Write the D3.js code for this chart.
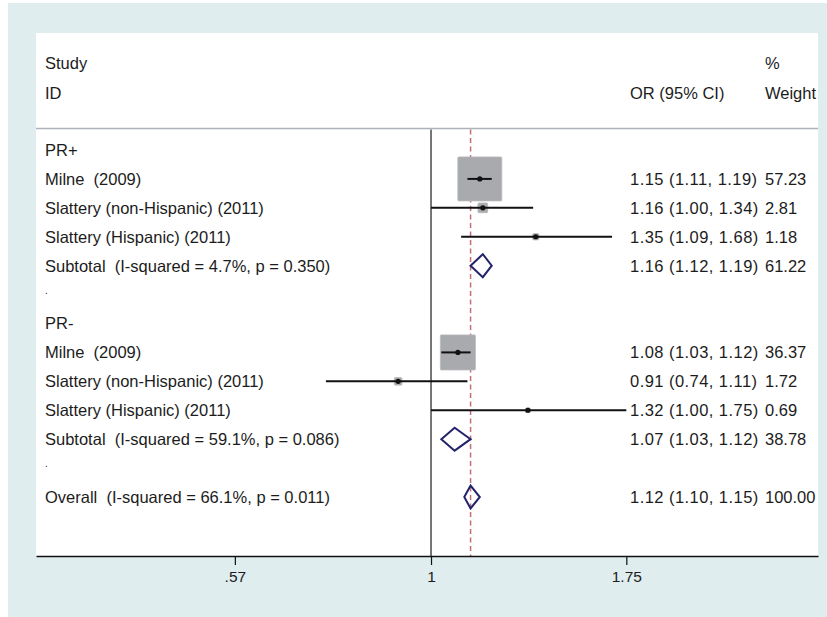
<!DOCTYPE html>
<html>
<head>
<meta charset="utf-8">
<script src="https://cdn.jsdelivr.net/npm/d3@7/dist/d3.min.js"></script>
<style>
  html, body { margin: 0; padding: 0; background: #ffffff; }
  svg { display: block; font-family: "Liberation Sans", Arial, sans-serif; }
  text { white-space: pre; }
</style>
</head>
<body>
<svg id="chart" width="827" height="617"></svg>
<script>
// Forest plot rows, top to bottom
const rowLabels = [
  "PR+",
  "Milne  (2009)",
  "Slattery (non-Hispanic) (2011)",
  "Slattery (Hispanic) (2011)",
  "Subtotal  (I-squared = 4.7%, p = 0.350)",
  ".",
  "PR-",
  "Milne  (2009)",
  "Slattery (non-Hispanic) (2011)",
  "Slattery (Hispanic) (2011)",
  "Subtotal  (I-squared = 59.1%, p = 0.086)",
  ".",
  "Overall  (I-squared = 66.1%, p = 0.011)"
];
const rowKinds = ["group", "study", "study", "study", "subtotal", "blank",
                  "group", "study", "study", "study", "subtotal", "blank", "overall"];
const orValues = [null, 1.15, 1.16, 1.35, 1.16, null, null, 1.08, 0.91, 1.32, 1.07, null, 1.12];
const ciLower  = [null, 1.11, 1.00, 1.09, 1.12, null, null, 1.03, 0.74, 1.00, 1.03, null, 1.10];
const ciUpper  = [null, 1.19, 1.34, 1.68, 1.19, null, null, 1.12, 1.11, 1.75, 1.12, null, 1.15];
const weights  = [null, 57.23, 2.81, 1.18, 61.22, null, null, 36.37, 1.72, 0.69, 38.78, null, 100.00];

const tickValues = [0.57, 1, 1.75];
const tickLabels = [".57", "1", "1.75"];

const svg = d3.select("#chart");
const W = 827, H = 617;

// frame
svg.append("rect").attr("x", 8).attr("y", 3).attr("width", W - 8).attr("height", H - 3)
  .attr("fill", "#dfedef");
const panel = { left: 36, right: 818, top: 33, bottom: 556 };
svg.append("rect").attr("x", panel.left).attr("y", panel.top)
  .attr("width", panel.right - panel.left).attr("height", panel.bottom - panel.top)
  .attr("fill", "#ffffff");

const x = d3.scaleLog().domain([0.3224, 3.031]).range([panel.left, panel.right]);
const y = d3.scaleLinear().domain([0, rowLabels.length - 1]).range([150, 497]);

const fontSize = 16.5;
const textColor = "#1c1c1c";
const colOR = 630, colW = 765, colLabel = 45;
const sepY = 128.5;

// column headers
const hdr = svg.append("g").attr("fill", textColor).attr("font-size", fontSize);
hdr.append("text").attr("x", colLabel).attr("y", 63).attr("dy", "0.36em").text("Study");
hdr.append("text").attr("x", colLabel).attr("y", 93).attr("dy", "0.36em").text("ID");
hdr.append("text").attr("x", colOR).attr("y", 93).attr("dy", "0.36em").text("OR (95% CI)");
hdr.append("text").attr("x", colW).attr("y", 63).attr("dy", "0.36em").text("%");
hdr.append("text").attr("x", colW).attr("y", 93).attr("dy", "0.36em").text("Weight");

svg.append("line").attr("x1", panel.left).attr("x2", panel.right)
  .attr("y1", sepY).attr("y2", sepY)
  .attr("stroke", "#adb2ba").attr("stroke-width", 1.5);

// reference lines: null effect and overall estimate
const overallIdx = rowKinds.indexOf("overall");
svg.append("line").attr("x1", x(1)).attr("x2", x(1))
  .attr("y1", sepY + 1).attr("y2", panel.bottom)
  .attr("stroke", "#555555").attr("stroke-width", 1.6);
svg.append("line").attr("x1", x(orValues[overallIdx])).attr("x2", x(orValues[overallIdx]))
  .attr("y1", sepY + 1).attr("y2", panel.bottom)
  .attr("stroke", "#c46d78").attr("stroke-width", 1.5).attr("stroke-dasharray", "5,3.5");

// axis
const axis = d3.axisBottom(x)
  .tickValues(tickValues)
  .tickFormat((d, i) => tickLabels[i])
  .tickSize(9).tickSizeOuter(0);
const ax = svg.append("g").attr("transform", `translate(0,${panel.bottom})`).call(axis);
ax.select(".domain").attr("stroke", "#111").attr("stroke-width", 1.6);
ax.selectAll(".tick line").attr("stroke", "#111").attr("stroke-width", 1.2);
ax.selectAll(".tick text").attr("fill", textColor).attr("font-size", 15.5)
  .attr("font-family", "'Liberation Sans', Arial, sans-serif").attr("y", 15);

// row labels and estimate columns
const rows = rowLabels.map((label, i) => ({
  label, kind: rowKinds[i], or: orValues[i], lo: ciLower[i], hi: ciUpper[i], w: weights[i], i
}));
const fmt2 = d3.format(".2f");
const tg = svg.append("g").attr("fill", textColor).attr("font-size", fontSize);
tg.selectAll("text.lab").data(rows).join("text").attr("class", "lab")
  .attr("x", colLabel).attr("y", d => y(d.i)).attr("dy", d => d.kind === "blank" ? "-0.1em" : "0.36em")
  .attr("font-size", d => d.kind === "blank" ? 10 : fontSize)
  .text(d => d.label);
const est = rows.filter(d => d.or !== null);
tg.selectAll("text.or").data(est).join("text").attr("class", "or")
  .attr("x", colOR).attr("y", d => y(d.i)).attr("dy", "0.36em")
  .attr("letter-spacing", "0.45px")
  .text(d => `${fmt2(d.or)} (${fmt2(d.lo)}, ${fmt2(d.hi)})`);
tg.selectAll("text.wt").data(est).join("text").attr("class", "wt")
  .attr("x", colW).attr("y", d => y(d.i)).attr("dy", "0.36em")
  .text(d => fmt2(d.w));

// study boxes (area proportional to weight), CI lines and point estimates
const studies = rows.filter(d => d.kind === "study");
const boxSide = d3.scaleSqrt().domain([0, 57.23]).range([0, 44]);
const mg = svg.append("g");
mg.selectAll("rect.box").data(studies).join("rect").attr("class", "box")
  .attr("x", d => x(d.or) - boxSide(d.w) / 2).attr("y", d => y(d.i) - boxSide(d.w) / 2)
  .attr("width", d => boxSide(d.w)).attr("height", d => boxSide(d.w))
  .attr("rx", 1)
  .attr("fill", "#a9aaae").attr("stroke", "#b9babd").attr("stroke-width", 0.8);
mg.selectAll("line.ci").data(studies).join("line").attr("class", "ci")
  .attr("x1", d => x(d.lo)).attr("x2", d => x(d.hi))
  .attr("y1", d => y(d.i)).attr("y2", d => y(d.i))
  .attr("stroke", "#111").attr("stroke-width", 2);
mg.selectAll("circle.pt").data(studies).join("circle").attr("class", "pt")
  .attr("cx", d => x(d.or)).attr("cy", d => y(d.i)).attr("r", 2.6)
  .attr("fill", "#111");

// pooled estimates as diamonds
const pooled = rows.filter(d => d.kind === "subtotal" || d.kind === "overall");
const halfH = 11.5;
mg.selectAll("path.diamond").data(pooled).join("path").attr("class", "diamond")
  .attr("d", d => {
    const yc = y(d.i);
    return `M${x(d.lo)},${yc} L${x(d.or)},${yc - halfH} L${x(d.hi)},${yc} L${x(d.or)},${yc + halfH} Z`;
  })
  .attr("fill", "none").attr("stroke", "#23236b").attr("stroke-width", 2)
  .attr("stroke-linejoin", "miter");
</script>
</body>
</html>
